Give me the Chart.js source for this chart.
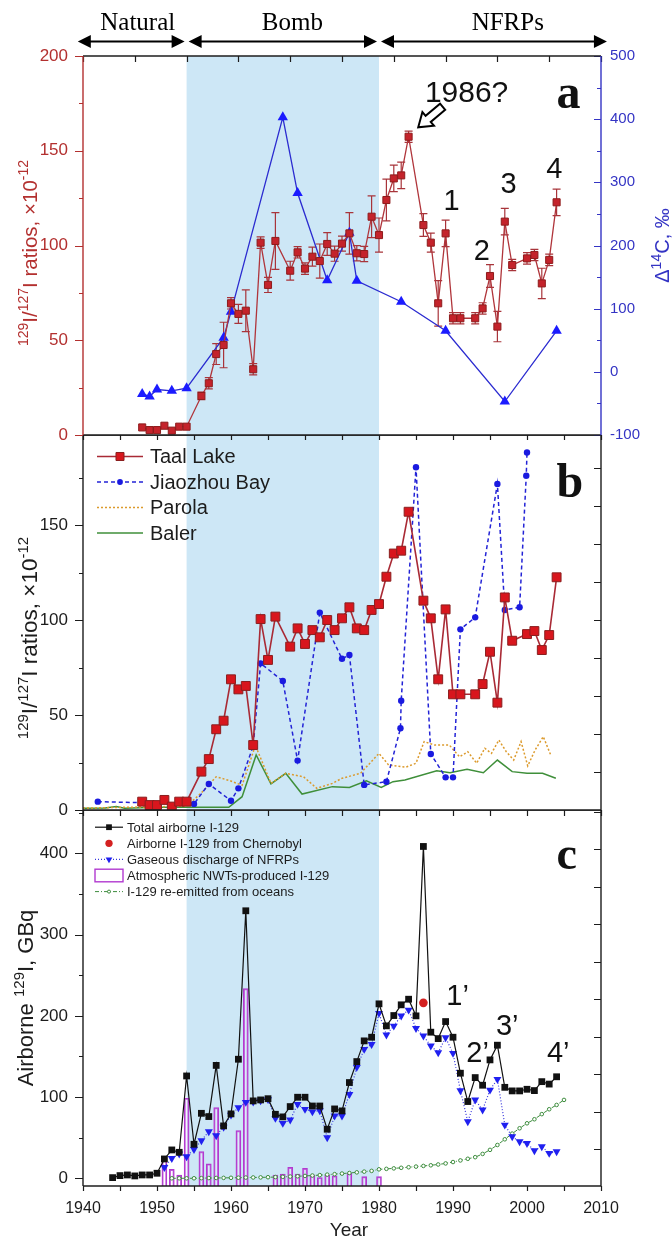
<!DOCTYPE html>
<html>
<head>
<meta charset="utf-8">
<title>129I/127I ratios and airborne I-129</title>
<script src="https://cdn.jsdelivr.net/npm/chart.js@4.4.1/dist/chart.umd.min.js"></script>
<style>
  html, body { margin: 0; padding: 0; background: #fff; }
  #fig { position: relative; width: 672px; height: 1239px; overflow: hidden; }
  #fig canvas { position: absolute; left: 0; }
</style>
</head>
<body>
<div id="fig">
  <canvas id="chart-c" width="672" height="429" style="top:810px"></canvas>
  <canvas id="chart-b" width="672" height="385" style="top:435px"></canvas>
  <canvas id="chart-a" width="672" height="445" style="top:0"></canvas>
</div>
<script>
const SANS = "'Liberation Sans', Arial, sans-serif";
const SERIF = "'Liberation Serif', 'Times New Roman', serif";
const RED = '#b3302f', BLUE = '#3434c4', INK = '#1c1c1c', BAND = '#cde7f6';

/* ---- periods (top arrows + shaded bomb band) ---- */
const eraNames = ['Natural', 'Bomb', 'NFRPs'];
const eraEdges = [1939.3, 1954, 1980, 2010.8];
const eraLabelAt = [1947.4, 1968.3, 1997.4];

/* ---- Taal Lake core, 129I/127I (x1e-12) ---- */
const taalYears = [1948, 1949, 1950, 1951, 1952, 1953, 1954, 1956, 1957, 1958, 1959, 1960, 1961, 1962, 1963, 1964, 1965, 1966,
  1968, 1969, 1970, 1971, 1972, 1973, 1974, 1975, 1976, 1977, 1978, 1979, 1980, 1981, 1982, 1983, 1984,
  1986, 1987, 1988, 1989, 1990, 1991, 1993, 1994, 1995, 1996, 1997, 1998, 2000, 2001, 2002, 2003, 2004];
const taalRatioA = [4.0, 2.6, 2.6, 4.9, 2.3, 4.4, 4.4, 20.6, 27.3, 42.7, 47.5, 69.5, 63.9, 65.6, 34.7, 101.5, 79.2, 102.4,
  86.7, 96.4, 87.8, 94.1, 91.8, 100.8, 95.7, 101, 106.4, 95.9, 95.5, 115.2, 105.5, 124, 135.4, 137, 157.4,
  110.8, 101.5, 69.5, 106.4, 61.6, 61.6, 61.6, 66.8, 83.9, 57.2, 112.6, 89.7, 93.2, 95, 80, 92.4, 122.8];
const taalErrA = [0, 0, 0, 0, 0, 0, 0, 2, 3, 5.5, 12, 3, 5, 11, 3, 3, 4, 15,
  5, 3, 3, 5, 9, 6, 4, 4, 11, 4, 4, 11, 9, 11, 7, 7, 3,
  6, 5, 12, 7, 3, 3, 3, 3, 6, 8, 7, 3, 3, 3, 8, 3, 7];
const taalRatioB = [4.4, 2.6, 2.6, 5.3, 1.8, 4.4, 4.4, 20.2, 26.8, 42.5, 47, 68.8, 63.5, 65.3, 34.2, 100.5, 79, 101.8,
  86, 95.6, 87.4, 94.7, 90.9, 100, 94.7, 100.9, 106.7, 95.6, 94.7, 105.3, 108.4, 122.8, 135, 136.5, 157,
  110.2, 100.9, 68.8, 105.6, 60.9, 60.9, 60.9, 66.3, 83.3, 56.5, 111.9, 89.1, 92.6, 94.2, 84.2, 92.1, 122.5];

/* ---- Delta 14C (permil) ---- */
const c14Years = [1948, 1949, 1950, 1952, 1954, 1959, 1960, 1967, 1969, 1973, 1976, 1977, 1983, 1989, 1997, 2004];
const c14Delta = [-35, -39, -28, -30, -26, 54, 95, 403, 283, 145, 220, 144, 111, 65, -47, 65];

/* ---- other cores (panel b) ---- */
const jiaoYears = [1942, 1955, 1957, 1960, 1961, 1963, 1964, 1967, 1969, 1972, 1975, 1976, 1978, 1981, 1982.9, 1983,
  1985, 1987, 1989, 1990, 1991, 1993, 1996, 1997, 1999, 1999.9, 2000];
const jiaoRatio = [4.4, 3.2, 13.7, 4.9, 11.4, 33.7, 77.2, 67.9, 26, 103.9, 79.6, 81.6, 13.2, 14.9, 43, 57.5,
  180.4, 29.5, 17.2, 17.2, 95.1, 101.4, 171.6, 105.3, 106.7, 176, 188.2];
const parolaYears = [1940, 1954, 1956, 1958, 1959.8, 1961.5, 1963.3, 1965.4, 1967.4, 1969.8, 1971.6, 1973.7, 1975, 1977.5,
  1980, 1981.3, 1983.6, 1985, 1986.1, 1987.5, 1989.5, 1990.9, 1992, 1993.2, 1994.3, 1995.2, 1996.2, 1997.2,
  1998.2, 1999.2, 2000.1, 2001.1, 2002.2, 2003.2];
const parolaRatio = [1, 2, 9, 17.5, 15.5, 13, 34, 14, 19.3, 17.5, 11.4, 14, 16.7, 19.3,
  29.8, 23.7, 22.5, 24.6, 36, 34.2, 34.2, 28, 30.7, 24.6, 32.5, 29.8, 36.8, 30.7,
  26.3, 36, 23.2, 31.6, 38.6, 29];
const balerYears = [1940, 1943, 1944.5, 1945.6, 1950, 1959.7, 1961.5, 1963.4, 1965.4, 1967.4, 1969.6, 1973.7, 1976,
  1978.3, 1980.3, 1981.9, 1983.5, 1987.8, 1989.6, 1991.9, 1994.1, 1996, 1998, 2000, 2002.1, 2003.9];
const balerRatio = [0.9, 1, 1.8, 0.9, 1.4, 1.4, 7, 29, 13.7, 19.3, 8.4, 12.3, 11.9,
  15.4, 11.9, 14.9, 15.8, 20.7, 19.6, 21.4, 19.6, 26.3, 20.2, 19.3, 19.3, 16.7];

/* ---- airborne I-129, GBq (panel c) ---- */
const airYears = [1944, 1945, 1946, 1947, 1948, 1949, 1950, 1951, 1952, 1953, 1954, 1955, 1956, 1957, 1958, 1959,
  1960, 1961, 1962, 1963, 1964, 1965, 1966, 1967, 1968, 1969, 1970, 1971, 1972, 1973, 1974, 1975, 1976, 1977, 1978, 1979,
  1980, 1981, 1982, 1983, 1984, 1985, 1986, 1987, 1988, 1989, 1990, 1991, 1992, 1993, 1994, 1995, 1996, 1997, 1998, 1999,
  2000, 2001, 2002, 2003, 2004];
const airTotal = [0.8, 3.3, 4.1, 2.9, 4.1, 4.1, 6.2, 23.8, 34.9, 32, 126, 41.9, 80, 76, 139, 64.5,
  79.3, 146.6, 329.4, 95.3, 96.5, 98, 78.8, 75.6, 88.3, 99.8, 99.8, 89, 89, 60.4, 85.4, 83, 117.9, 143.7, 169.2, 173.7,
  214.8, 187.7, 200.4, 213.6, 220.5, 200, 408.6, 179.9, 172, 193, 173.7, 129.4, 94.5, 124, 114.6, 145.8, 163.9, 112, 107.6, 107.6,
  109.6, 108, 119, 116, 125];
const chernobylYears = [1986];
const chernobylI = [216];
const gasYears = [1951, 1952, 1953, 1954, 1955, 1956, 1957, 1958, 1959,
  1960, 1961, 1962, 1963, 1964, 1965, 1966, 1967, 1968, 1969, 1970, 1971, 1972, 1973, 1974, 1975, 1976, 1977, 1978, 1979,
  1980, 1981, 1982, 1983, 1984, 1985, 1986, 1987, 1988, 1989, 1990, 1991, 1992, 1993, 1994, 1995, 1996, 1997, 1998, 1999,
  2000, 2001, 2002, 2003, 2004];
const gasNFRP = [13.5, 24.6, 30, 26.7, 35.7, 46.4, 57.5, 52.5, 63,
  78, 87, 93.6, 94, 95.5, 97, 73.9, 67.8, 71.9, 91.2, 85, 82, 83.4, 50.1, 76.8, 76.8, 103.4, 136.7, 158.9, 165,
  203.2, 176.6, 187.6, 200, 207.3, 184.7, 175.3, 163, 154.8, 173.2, 154, 108, 69.8, 96.5, 84.2, 108.8, 122, 65.7, 51.3, 45.2,
  43.1, 34.1, 39, 30.8, 32.8];
const nwtYears = [1951, 1952, 1953, 1954, 1956, 1957, 1958, 1961, 1962, 1966, 1967, 1968, 1969, 1970, 1971, 1972, 1973, 1974, 1976, 1978, 1980];
const nwtI = [22.6, 11, 4, 98.6, 32.8, 17.7, 87, 58.7, 233.6, 4, 5.3, 13.5, 5.3, 12.3, 4, 1, 4, 3, 6, 2, 2];
const oceanYears = [1952, 1953, 1954, 1955, 1956, 1957, 1958, 1959,
  1960, 1961, 1962, 1963, 1964, 1965, 1966, 1967, 1968, 1969, 1970, 1971, 1972, 1973, 1974, 1975, 1976, 1977, 1978, 1979,
  1980, 1981, 1982, 1983, 1984, 1985, 1986, 1987, 1988, 1989, 1990, 1991, 1992, 1993, 1994, 1995, 1996, 1997, 1998, 1999,
  2000, 2001, 2002, 2003, 2004, 2005];
const oceanI = [0, 0, 0, 0, 0.2, 0.3, 0.4, 0.5,
  0.6, 0.7, 0.9, 1, 1.1, 1.3, 1.5, 1.8, 2.1, 2.5, 2.9, 3.4, 3.9, 4.5, 5.1, 5.8, 6.5, 7.3, 8.2, 9.1,
  11, 11.6, 12.2, 12.9, 13.6, 14.4, 15.2, 16, 17, 18.3, 20, 22, 24, 26, 30, 35, 41, 48, 55, 61.6,
  67.7, 72.7, 79, 85, 90.3, 96.5];

const pts = (xs, ys) => xs.map((x, i) => ({ x, y: ys[i] }));
const C_MIN = -9.5;

/* ---------- drawing helpers ---------- */
function marker(ctx, style, x, y, r, rot, fill, stroke, bw) {
  ctx.beginPath();
  if (style === 'rect') {
    const s = r * Math.SQRT1_2;
    ctx.rect(x - s, y - s, 2 * s, 2 * s);
  } else if (style === 'triangle') {
    let a = (rot || 0) * Math.PI / 180;
    for (let k = 0; k < 3; k++) {
      const px = x + Math.sin(a) * r, py = y - Math.cos(a) * r;
      if (k) ctx.lineTo(px, py); else ctx.moveTo(px, py);
      a += 2 * Math.PI / 3;
    }
    ctx.closePath();
  } else {
    ctx.arc(x, y, r, 0, 2 * Math.PI);
  }
  ctx.fillStyle = fill; ctx.fill();
  if (bw) { ctx.lineWidth = bw; ctx.strokeStyle = stroke; ctx.stroke(); }
}

// rotated axis title with superscripts; x = baseline, y = centre
function vtitle(ctx, t) {
  ctx.save();
  ctx.translate(t.x, t.y);
  ctx.rotate(-Math.PI / 2);
  ctx.fillStyle = t.color;
  ctx.textBaseline = 'alphabetic';
  ctx.textAlign = 'left';
  const f = sup => `${sup ? Math.round(t.size * 0.68) : t.size}px ${SANS}`;
  let w = 0;
  t.parts.forEach(p => { ctx.font = f(p[1]); w += ctx.measureText(p[0]).width; });
  let cx = -w / 2;
  t.parts.forEach(p => {
    ctx.font = f(p[1]);
    ctx.fillText(p[0], cx, p[1] ? -t.size * 0.42 : 0);
    cx += ctx.measureText(p[0]).width;
  });
  ctx.restore();
}

function blockArrow(ctx, x0, y0, x1, y1) {
  const ang = Math.atan2(y1 - y0, x1 - x0), L = Math.hypot(x1 - x0, y1 - y0);
  const hl = 13, hw = 9, sw = 4;
  ctx.save();
  ctx.translate(x0, y0); ctx.rotate(ang);
  ctx.beginPath();
  ctx.moveTo(0, -sw); ctx.lineTo(L - hl, -sw); ctx.lineTo(L - hl, -hw); ctx.lineTo(L, 0);
  ctx.lineTo(L - hl, hw); ctx.lineTo(L - hl, sw); ctx.lineTo(0, sw); ctx.closePath();
  ctx.fillStyle = '#fff'; ctx.fill();
  ctx.strokeStyle = '#000'; ctx.lineWidth = 2; ctx.stroke();
  ctx.restore();
}

function doubleArrow(ctx, xa, xb, y) {
  const hl = 13, hh = 6.5;
  ctx.strokeStyle = '#000'; ctx.fillStyle = '#000'; ctx.lineWidth = 2.2;
  ctx.beginPath(); ctx.moveTo(xa + hl - 1, y); ctx.lineTo(xb - hl + 1, y); ctx.stroke();
  ctx.beginPath(); ctx.moveTo(xa, y); ctx.lineTo(xa + hl, y - hh); ctx.lineTo(xa + hl, y + hh); ctx.closePath(); ctx.fill();
  ctx.beginPath(); ctx.moveTo(xb, y); ctx.lineTo(xb - hl, y - hh); ctx.lineTo(xb - hl, y + hh); ctx.closePath(); ctx.fill();
}

function drawTicks(chart, t) {
  const { ctx, chartArea: a } = chart;
  const s = chart.scales[t.scale];
  let vals = s.ticks.map(k => k.value);
  if (t.step) { vals = []; for (let v = s.min + (t.start || 0); v <= s.max + 1e-6; v += t.step) vals.push(v); }
  ctx.strokeStyle = t.color || INK; ctx.lineWidth = 1.2;
  ctx.beginPath();
  vals.forEach(v => {
    const p = Math.round(s.getPixelForValue(v)) + 0.5, len = t.len(v);
    if (t.edge === 'left') { ctx.moveTo(a.left, p); ctx.lineTo(a.left - len, p); }
    else if (t.edge === 'right') { ctx.moveTo(a.right, p); ctx.lineTo(a.right + len, p); }
    else if (t.edge === 'bottom') { ctx.moveTo(p, a.bottom); ctx.lineTo(p, a.bottom + len); }
    else { ctx.moveTo(p, a.top); ctx.lineTo(p, a.top - len); }
  });
  ctx.stroke();
}

function drawLegend(chart, L) {
  const ctx = chart.ctx;
  ctx.textBaseline = 'middle'; ctx.textAlign = 'left'; ctx.font = L.font;
  L.items.forEach((idx, k) => {
    const ds = chart.data.datasets[idx];
    const y = L.y0 + k * L.dy, xm = (L.x0 + L.x1) / 2;
    if (ds.type === 'bar') {
      ctx.strokeStyle = ds.borderColor; ctx.lineWidth = 1.4;
      ctx.strokeRect(L.x0, y - L.boxH / 2, L.x1 - L.x0, L.boxH);
    } else {
      if (ds.showLine !== false) {
        ctx.save();
        ctx.strokeStyle = ds.borderColor; ctx.lineWidth = ds.borderWidth;
        ctx.setLineDash(ds.borderDash || []);
        ctx.beginPath(); ctx.moveTo(L.x0, y); ctx.lineTo(L.x1, y); ctx.stroke();
        ctx.restore();
      }
      if (ds.pointRadius > 0) {
        marker(ctx, ds.pointStyle, xm, y, (L.markScale || 1) * ds.pointRadius, ds.pointRotation,
          ds.pointBackgroundColor, ds.pointBorderColor, ds.pointBorderWidth);
      }
    }
    ctx.fillStyle = INK;
    ctx.fillText(ds.label, L.tx, y + 1);
  });
}

/* ---------- per-chart decoration plugin ---------- */
function deco(cfg) {
  return {
    id: 'deco',
    beforeDatasetsDraw(chart) {
      const { ctx, chartArea: a, scales } = chart;
      const x = scales.x;
      ctx.save();
      const b0 = x.getPixelForValue(eraEdges[1]), b1 = x.getPixelForValue(eraEdges[2]);
      ctx.fillStyle = BAND;
      ctx.fillRect(b0, a.top, b1 - b0, a.bottom - a.top);
      (cfg.errors || []).forEach(e => {
        const ds = chart.data.datasets[e.ds];
        const ys = scales[ds.yAxisID || 'y'];
        ctx.strokeStyle = e.color; ctx.lineWidth = 1.2;
        ctx.beginPath();
        ds.data.forEach((p, i) => {
          const d = e.err[i];
          if (!d) return;
          const px = x.getPixelForValue(p.x), y0 = ys.getPixelForValue(p.y - d), y1 = ys.getPixelForValue(p.y + d);
          ctx.moveTo(px, y0); ctx.lineTo(px, y1);
          ctx.moveTo(px - 4, y0); ctx.lineTo(px + 4, y0);
          ctx.moveTo(px - 4, y1); ctx.lineTo(px + 4, y1);
        });
        ctx.stroke();
      });
      ctx.restore();
    },
    afterDraw(chart) {
      const { ctx, chartArea: a, scales } = chart;
      ctx.save();
      (cfg.ticks || []).forEach(t => drawTicks(chart, t));
      // plot frame
      const fr = cfg.frame || {};
      ctx.lineWidth = 1.4;
      [['top', a.left, a.top, a.right, a.top], ['bottom', a.left, a.bottom, a.right, a.bottom],
       ['left', a.left, a.top, a.left, a.bottom], ['right', a.right, a.top, a.right, a.bottom]].forEach(([k, x0, y0, x1, y1]) => {
        ctx.strokeStyle = fr[k] || INK;
        ctx.beginPath(); ctx.moveTo(x0, y0); ctx.lineTo(x1, y1); ctx.stroke();
      });
      // annotations placed in data units
      (cfg.texts || []).forEach(t => {
        ctx.font = t.font; ctx.fillStyle = t.color || '#111';
        ctx.textAlign = t.align || 'left'; ctx.textBaseline = 'alphabetic';
        ctx.fillText(t.text, scales.x.getPixelForValue(t.x), scales.y.getPixelForValue(t.y));
      });
      if (cfg.hollowArrow) {
        const h = cfg.hollowArrow;
        blockArrow(ctx, scales.x.getPixelForValue(h.from[0]), scales.y.getPixelForValue(h.from[1]),
          scales.x.getPixelForValue(h.to[0]), scales.y.getPixelForValue(h.to[1]));
      }
      if (cfg.eras) {
        ctx.font = `25px ${SERIF}`; ctx.fillStyle = '#000';
        ctx.textAlign = 'center'; ctx.textBaseline = 'alphabetic';
        eraNames.forEach((n, i) => {
          const xa = scales.x.getPixelForValue(eraEdges[i]) + (i ? 2 : 0);
          const xb = scales.x.getPixelForValue(eraEdges[i + 1]) - (i < 2 ? 2 : 0);
          doubleArrow(ctx, xa, xb, 41.5);
          ctx.fillText(n, scales.x.getPixelForValue(eraLabelAt[i]), 29.5);
        });
      }
      if (cfg.legend) drawLegend(chart, cfg.legend);
      (cfg.titles || []).forEach(t => vtitle(ctx, t));
      (cfg.labels || []).forEach(t => {
        ctx.font = t.font; ctx.fillStyle = t.color || INK;
        ctx.textAlign = 'center'; ctx.textBaseline = 'alphabetic';
        ctx.fillText(t.text, t.x, t.y);
      });
      ctx.restore();
    }
  };
}

/* ---------- axes ---------- */
function xAxis(h, labels) {
  return {
    type: 'linear', min: 1940, max: 2010, offset: false,
    ticks: {
      stepSize: 5, display: labels, padding: 13, color: INK, maxRotation: 0, autoSkip: false,
      font: { family: SANS, size: 16 },
      callback: v => (v % 10 === 0 ? v : '')
    },
    grid: { display: false, drawTicks: false },
    border: { display: false },
    afterFit: s => { s.height = h; s.paddingLeft = 0; s.paddingRight = 0; }
  };
}
function yAxis(o) {
  return {
    type: 'linear', position: o.pos || 'left', min: o.min, max: o.max,
    ticks: {
      stepSize: o.step, includeBounds: false, padding: o.pad, color: o.color,
      font: { family: SANS, size: o.size },
      callback: v => (v % o.every === 0 && v <= o.top ? v : '')
    },
    grid: { display: false, drawTicks: false },
    border: { display: false },
    afterFit: s => { s.width = o.width; s.paddingTop = 0; s.paddingBottom = 0; }
  };
}
const base = {
  responsive: false, animation: false, events: [],
  plugins: { legend: { display: false }, tooltip: { enabled: false } }
};

/* ---------- panel a ---------- */
new Chart(document.getElementById('chart-a'), {
  type: 'line',
  data: {
    datasets: [
      { label: 'Taal Lake', data: pts(taalYears, taalRatioA), yAxisID: 'y', borderColor: '#b0353b', borderWidth: 1.3,
        pointStyle: 'rect', pointRadius: 5, pointBackgroundColor: '#c4232b', pointBorderColor: '#8e1c1c', pointBorderWidth: 1 },
      { label: 'Δ14C', data: pts(c14Years, c14Delta), yAxisID: 'y2', borderColor: '#2b2bd0', borderWidth: 1.3,
        pointStyle: 'triangle', pointRadius: 6, pointBackgroundColor: '#1b1bff', pointBorderColor: '#1b1bff', pointBorderWidth: 0 }
    ]
  },
  options: Object.assign({}, base, {
    layout: { padding: { top: 56, left: 0, right: 0, bottom: 0 }, autoPadding: false },
    scales: {
      x: xAxis(10, false),
      y: yAxis({ min: 0, max: 200, step: 25, every: 50, top: 200, pad: 15, color: RED, size: 17, width: 83 }),
      y2: yAxis({ pos: 'right', min: -100, max: 500, step: 50, every: 100, top: 500, pad: 9, color: BLUE, size: 15, width: 71 })
    }
  }),
  plugins: [deco({
    frame: { left: RED, right: BLUE },
    ticks: [
      { scale: 'y', edge: 'left', len: v => (v % 50 === 0 ? 8 : 4), color: RED },
      { scale: 'y2', edge: 'right', len: v => (v % 100 === 0 ? -7 : -4), color: BLUE },
      { scale: 'x', edge: 'bottom', len: () => 5 },
      { scale: 'x', edge: 'top', step: 7, len: () => -6 }
    ],
    errors: [{ ds: 0, err: taalErrA, color: '#a8343a' }],
    texts: [
      { text: '1986?', x: 1986.2, y: 175.7, font: `30px ${SANS}` },
      { text: 'a', x: 2004, y: 172.6, font: `bold 48px ${SERIF}` },
      { text: '1', x: 1989.8, y: 118.7, font: `29px ${SANS}`, align: 'center' },
      { text: '2', x: 1993.9, y: 92.3, font: `29px ${SANS}`, align: 'center' },
      { text: '3', x: 1997.5, y: 127.7, font: `29px ${SANS}`, align: 'center' },
      { text: '4', x: 2003.7, y: 135.6, font: `29px ${SANS}`, align: 'center' }
    ],
    hollowArrow: { from: [1988.6, 173.2], to: [1985.3, 162.4] },
    eras: true,
    titles: [
      { x: 36.5, y: 253, size: 20.5, color: RED, parts: [['129', 1], ['I/', 0], ['127', 1], ['I ratios, \u00d710', 0], ['-12', 1]] },
      { x: 669, y: 245.5, size: 20, color: BLUE, parts: [['\u0394', 0], ['14', 1], ['C, \u2030', 0]] }
    ]
  })]
});

/* ---------- panel b ---------- */
new Chart(document.getElementById('chart-b'), {
  type: 'line',
  data: {
    datasets: [
      { label: 'Taal Lake', data: pts(taalYears, taalRatioB), borderColor: '#a92a35', borderWidth: 1.6,
        pointStyle: 'rect', pointRadius: 6.3, pointBackgroundColor: '#d8161d', pointBorderColor: '#8a1f1f', pointBorderWidth: 1 },
      { label: 'Jiaozhou Bay', data: pts(jiaoYears, jiaoRatio), borderColor: '#2323d6', borderWidth: 1.5, borderDash: [4, 3],
        pointStyle: 'circle', pointRadius: 3.2, pointBackgroundColor: '#1a1ae0', pointBorderColor: '#1a1ae0', pointBorderWidth: 0 },
      { label: 'Parola', data: pts(parolaYears, parolaRatio), borderColor: '#dc9a2c', borderWidth: 1.5, borderDash: [2, 2],
        pointRadius: 0 },
      { label: 'Baler', data: pts(balerYears, balerRatio), borderColor: '#3f8f3a', borderWidth: 1.5, pointRadius: 0 }
    ]
  },
  options: Object.assign({}, base, {
    layout: { padding: { top: 0, left: 0, right: 71, bottom: 0 }, autoPadding: false },
    scales: {
      x: xAxis(10, false),
      y: yAxis({ min: 0, max: 197.4, step: 25, every: 50, top: 150, pad: 15, color: INK, size: 17, width: 83 })
    }
  }),
  plugins: [deco({
    ticks: [
      { scale: 'y', edge: 'left', len: v => (v % 50 === 0 ? 8 : 4) },
      { scale: 'y', edge: 'right', step: 20, start: 20, len: () => -7 },
      { scale: 'x', edge: 'bottom', len: () => 6 }
    ],
    legend: { items: [0, 1, 2, 3], x0: 97, x1: 143, tx: 150, y0: 21.5, dy: 25.5, font: `20px ${SANS}`, markScale: 0.9 },
    texts: [{ text: 'b', x: 2004, y: 164.7, font: `bold 48px ${SERIF}` }],
    titles: [{ x: 37, y: 203, size: 22.5, color: INK, parts: [['129', 1], ['I/', 0], ['127', 1], ['I ratios, \u00d710', 0], ['-12', 1]] }]
  })]
});

/* ---------- panel c ---------- */
new Chart(document.getElementById('chart-c'), {
  type: 'line',
  data: {
    datasets: [
      { label: 'Total airborne I-129', data: pts(airYears, airTotal), borderColor: '#111', borderWidth: 1.2,
        pointStyle: 'rect', pointRadius: 4.8, pointBackgroundColor: '#111', pointBorderColor: '#111', pointBorderWidth: 0, order: 0 },
      { label: 'Airborne I-129 from Chernobyl', data: pts(chernobylYears, chernobylI), showLine: false,
        pointStyle: 'circle', pointRadius: 4.3, pointBackgroundColor: '#d42020', pointBorderColor: '#d42020', pointBorderWidth: 0, order: 0 },
      { label: 'Gaseous discharge of NFRPs', data: pts(gasYears, gasNFRP), borderColor: '#3434dd', borderWidth: 1.2, borderDash: [1, 2],
        pointStyle: 'triangle', pointRotation: 180, pointRadius: 4.6, pointBackgroundColor: '#2020f0', pointBorderColor: '#2020f0', pointBorderWidth: 0, order: 1 },
      { type: 'bar', label: 'Atmospheric NWTs-produced I-129', data: pts(nwtYears, nwtI), base: C_MIN,
        borderColor: '#b23ad0', borderWidth: 1.3, backgroundColor: 'rgba(255,255,255,0.25)', barThickness: 5, order: 5 },
      { label: 'I-129 re-emitted from oceans', data: pts(oceanYears, oceanI), borderColor: '#3d8c3d', borderWidth: 1, borderDash: [4, 2, 1, 2],
        pointStyle: 'circle', pointRadius: 1.8, pointBackgroundColor: '#fff', pointBorderColor: '#3d8c3d', pointBorderWidth: 1, order: 2 }
    ]
  },
  options: Object.assign({}, base, {
    layout: { padding: { top: 0, left: 0, right: 71, bottom: 0 }, autoPadding: false },
    scales: {
      x: xAxis(53, true),
      y: yAxis({ min: C_MIN, max: 453.5, step: 50, every: 100, top: 400, pad: 15, color: INK, size: 17, width: 83 })
    }
  }),
  plugins: [deco({
    ticks: [
      { scale: 'y', edge: 'left', len: v => (v % 100 === 0 ? 8 : 4) },
      { scale: 'y', edge: 'right', step: 46.2, start: 45, len: () => -7 },
      { scale: 'x', edge: 'bottom', len: () => 5 }
    ],
    legend: { items: [0, 1, 2, 3, 4], x0: 95, x1: 123, tx: 127, y0: 17.2, dy: 16.1, font: `13px ${SANS}`, boxH: 12.6, markScale: 0.85 },
    texts: [
      { text: 'c', x: 2004, y: 380.7, font: `bold 46px ${SERIF}` },
      { text: '1\u2019', x: 1989.1, y: 213.3, font: `29px ${SANS}` },
      { text: '2\u2019', x: 1991.8, y: 143.2, font: `29px ${SANS}` },
      { text: '3\u2019', x: 1995.8, y: 176.4, font: `29px ${SANS}` },
      { text: '4\u2019', x: 2002.7, y: 143.2, font: `29px ${SANS}` }
    ],
    titles: [{ x: 33, y: 188, size: 22, color: INK, parts: [['Airborne ', 0], ['129', 1], ['I, GBq', 0]] }],
    labels: [{ text: 'Year', x: 349, y: 426, font: `19px ${SANS}` }]
  })]
});
</script>
</body>
</html>
